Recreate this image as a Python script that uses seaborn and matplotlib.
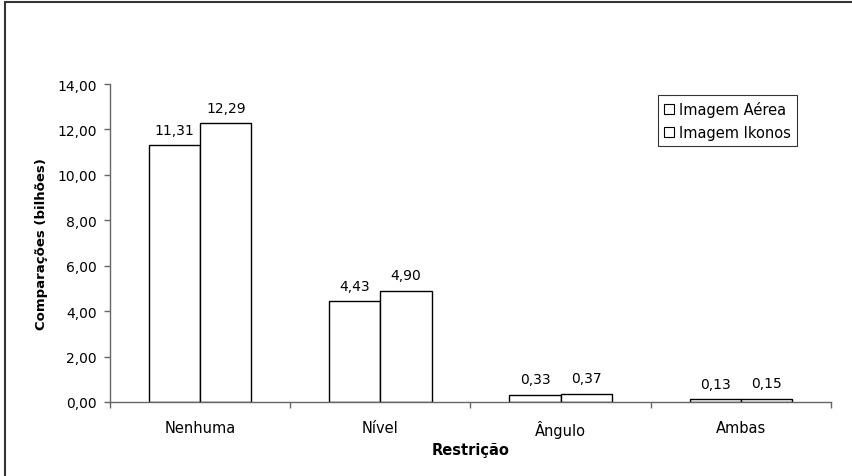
import matplotlib
matplotlib.use("Agg")
import matplotlib.pyplot as plt
import seaborn as sns
import pandas as pd
from matplotlib.ticker import FuncFormatter, FixedLocator
from matplotlib.lines import Line2D
from matplotlib.patches import Patch

categories = ["Nenhuma", "Nível", "Ângulo", "Ambas"]
series_names = ["Imagem Aérea", "Imagem Ikonos"]
aerea = [11.31, 4.43, 0.33, 0.13]
ikonos = [12.29, 4.90, 0.37, 0.15]
yticks = [0, 2, 4, 6, 8, 10, 12, 14]

df = pd.DataFrame({
    "Restrição": categories * 2,
    "valor": aerea + ikonos,
    "Imagem": [series_names[0]] * 4 + [series_names[1]] * 4,
})

sns.set_style("white")
plt.rcParams["font.family"] = ["DejaVu Sans"]
plt.rcParams["text.color"] = "black"
plt.rcParams["axes.labelcolor"] = "black"
plt.rcParams["xtick.labelcolor"] = "black"
plt.rcParams["ytick.labelcolor"] = "black"

fig = plt.figure(figsize=(8.53, 4.77), dpi=100)
ax = fig.add_axes([110 / 853, 1 - 403 / 477, 721 / 853, 318 / 477])

sns.barplot(data=df, x="Restrição", y="valor", hue="Imagem", order=categories,
            hue_order=series_names, palette=["white", "white"], edgecolor="black",
            linewidth=1.0, width=0.57, ax=ax, legend=False)

for cont in ax.containers:
    ax.bar_label(cont, labels=[f"{v:.2f}".replace(".", ",") for v in cont.datavalues],
                 padding=6, fontsize=10, color="black")

ax.set_ylim(0, 14)
ax.set_xlim(-0.5, 3.5)
ax.yaxis.set_major_locator(FixedLocator(yticks))
ax.yaxis.set_major_formatter(FuncFormatter(lambda v, p: f"{v:.2f}".replace(".", ",")))
ax.xaxis.set_minor_locator(FixedLocator([-0.5, 0.5, 1.5, 2.5, 3.5]))
ax.tick_params(axis="x", which="major", length=0, labelsize=10.5, pad=13, labelcolor="black")
ax.tick_params(axis="x", which="minor", length=4, width=1, color="#666666", direction="out", bottom=True)
ax.tick_params(axis="y", which="major", length=4.5, width=1, color="#666666", direction="out",
               left=True, labelsize=10, pad=5, labelcolor="black")

for s in ["top", "right"]:
    ax.spines[s].set_visible(False)
for s in ["left", "bottom"]:
    ax.spines[s].set_color("#666666")
    ax.spines[s].set_linewidth(1.0)

ax.set_xlabel("Restrição", fontsize=10.5, fontweight="bold", labelpad=3, color="black")
ax.set_ylabel("Comparações (bilhões)", fontsize=9.5, fontweight="bold", labelpad=7, color="black")

handles = [Patch(facecolor="white", edgecolor="black", linewidth=0.8, label=n) for n in series_names]
leg = fig.legend(handles=handles, loc="upper left", bbox_to_anchor=(658 / 853, 1 - 96 / 477),
                 frameon=True, fancybox=False, fontsize=10.5, handlelength=0.7,
                 handleheight=0.7, handletextpad=0.35, borderpad=0.4, labelspacing=0.55,
                 borderaxespad=0)
leg.get_frame().set_edgecolor("black")
leg.get_frame().set_linewidth(0.8)
for t in leg.get_texts():
    t.set_color("black")

fig.add_artist(Line2D([5 / 853, 5 / 853], [0, 1 - 3 / 477], transform=fig.transFigure,
                      color="#333333", linewidth=1.5))
fig.add_artist(Line2D([5 / 853, 1], [1 - 3 / 477, 1 - 3 / 477], transform=fig.transFigure,
                      color="#333333", linewidth=1.5))

fig.savefig("out.png", dpi=100)
